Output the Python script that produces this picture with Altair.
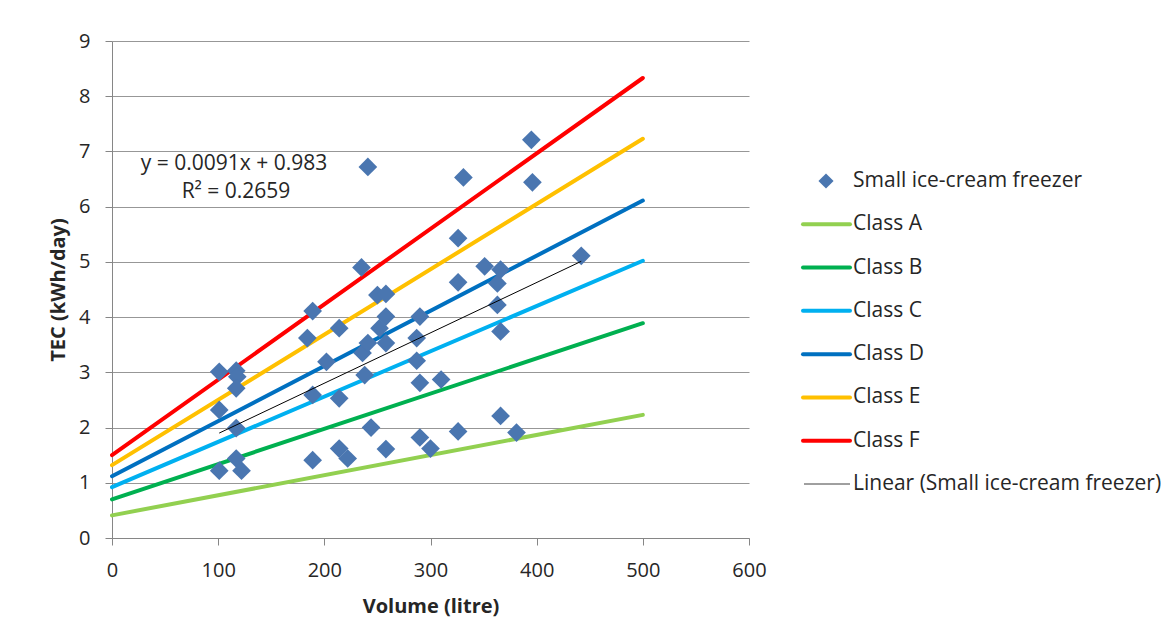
import altair as alt
import pandas as pd

# ---- data ----
volume = [101, 101, 101, 117, 118, 117, 117, 117, 122, 184, 189, 189, 189, 202, 214, 214, 214,
          222, 235, 236, 238, 241, 241, 244, 250, 252, 258, 258, 258, 258, 287, 287, 290,
          290, 290, 300, 310, 326, 326, 326, 331, 351, 363, 363, 366, 366, 366, 381, 395,
          396, 442]
tec = [3.01, 2.32, 1.22, 3.03, 2.92, 2.71, 1.99, 1.44, 1.22, 3.62, 4.11, 2.59, 1.41, 3.19, 3.80,
       2.53, 1.62, 1.44, 4.90, 3.35, 2.95, 6.72, 3.53, 2.00, 4.40, 3.80, 4.42, 4.01, 3.53,
       1.61, 3.62, 3.21, 4.01, 2.81, 1.82, 1.62, 2.87, 5.43, 4.63, 1.93, 6.53, 4.92, 4.61,
       4.22, 4.86, 3.74, 2.21, 1.91, 7.21, 6.44, 5.11]

class_names = ["Class A", "Class B", "Class C", "Class D", "Class E", "Class F"]
class_x = [0, 500]
class_a = [0.41, 2.23]
class_b = [0.70, 3.89]
class_c = [0.92, 5.02]
class_d = [1.12, 6.11]
class_e = [1.32, 7.23]
class_f = [1.50, 8.33]

trend_x = [101, 442]
trend_y = [1.90, 5.01]

equation_lines = ["y = 0.0091x + 0.983", "R² = 0.2659"]

series_name = "Small ice-cream freezer"
trend_name = "Linear (Small ice-cream freezer)"
legend_entries = [series_name] + class_names + [trend_name]

class_colors = ["#92D050", "#00B050", "#00B0F0", "#0070C0", "#FFC000", "#FF0000"]
point_color = "#4A76B0"

FONT = "Open Sans"
TXT = "#262626"
W, H = 637, 497

# ---- tables ----
pts = pd.DataFrame({"volume": volume, "tec": tec})
rows = []
for name, ys in zip(class_names, [class_a, class_b, class_c, class_d, class_e, class_f]):
    for xv, yv in zip(class_x, ys):
        rows.append({"cls": name, "volume": xv, "tec": yv})
lines = pd.DataFrame(rows)
trend = pd.DataFrame({"volume": trend_x, "tec": trend_y})
eq = pd.DataFrame({"t": equation_lines, "i": [0, 1]})

xscale = alt.Scale(domain=[0, 600], nice=False)
yscale = alt.Scale(domain=[0, 9], nice=False)

xaxis = alt.Axis(values=[0, 100, 200, 300, 400, 500, 600], format="d", grid=False, tickSize=7,
                 tickColor="#868686", domainColor="#868686", labelFontSize=20,
                 labelColor=TXT, labelFont=FONT, labelPadding=15, labelFlush=False,
                 title="Volume (litre)", titleFont=FONT, titleFontSize=20,
                 titleFontWeight="bold", titleColor=TXT, titlePadding=16)
yaxis = alt.Axis(values=list(range(10)), format="d", grid=True, gridColor="#979797", tickSize=7,
                 tickColor="#868686", domainColor="#868686", labelFontSize=20,
                 labelColor=TXT, labelFont=FONT, labelPadding=15, labelFlush=False,
                 title="TEC (kWh/day)", titleFont=FONT, titleFontSize=20,
                 titleFontWeight="bold", titleColor=TXT, titlePadding=10)

class_layer = alt.Chart(lines).mark_line(strokeWidth=4, strokeCap="round").encode(
    x=alt.X("volume:Q", scale=xscale, axis=xaxis),
    y=alt.Y("tec:Q", scale=yscale, axis=yaxis),
    color=alt.Color("cls:N", scale=alt.Scale(domain=class_names, range=class_colors), legend=None),
    detail="cls:N",
)
point_layer = alt.Chart(pts).mark_point(shape="diamond", filled=True, size=350, opacity=1,
                                        color=point_color).encode(
    x=alt.X("volume:Q", scale=xscale),
    y=alt.Y("tec:Q", scale=yscale),
)
trend_layer = alt.Chart(trend).mark_line(strokeWidth=1, color="#000000").encode(
    x=alt.X("volume:Q", scale=xscale),
    y=alt.Y("tec:Q", scale=yscale),
)
eq1 = alt.Chart(eq).transform_filter(alt.datum.i == 0).mark_text(
    font=FONT, fontSize=21, color=TXT, align="center", baseline="middle").encode(
    x=alt.value(122), y=alt.value(123), text="t:N")
eq2 = alt.Chart(eq).transform_filter(alt.datum.i == 1).mark_text(
    font=FONT, fontSize=21, color=TXT, align="center", baseline="middle").encode(
    x=alt.value(124), y=alt.value(151), text="t:N")

plot = alt.layer(class_layer, point_layer, trend_layer, eq1, eq2).properties(
    width=W, height=H, view=alt.ViewBackground(stroke="transparent", strokeWidth=0))

# ---- legend panel ----
leg = pd.DataFrame({"entry": legend_entries, "k": list(range(len(legend_entries)))})
leg_y = alt.Y("entry:N", sort=legend_entries,
              scale=alt.Scale(type="point", domain=legend_entries, range=[140, 443], padding=0),
              axis=None)
leg_color = alt.Color("entry:N", scale=alt.Scale(domain=legend_entries,
                                                 range=[point_color] + class_colors + ["#404040"]),
                      legend=None)
leg_lines = alt.Chart(leg).transform_filter(alt.datum.k >= 1).transform_filter(
    alt.datum.k <= 6).mark_rule(strokeWidth=4, strokeCap="round").encode(
    x=alt.value(2), x2=alt.value(49), y=leg_y, color=leg_color)
leg_trend = alt.Chart(leg).transform_filter(alt.datum.k == 7).mark_rule(
    strokeWidth=1).encode(x=alt.value(3), x2=alt.value(49), y=leg_y, color=leg_color)
leg_point = alt.Chart(leg).transform_filter(alt.datum.k == 0).mark_point(
    shape="diamond", filled=True, size=230, opacity=1).encode(x=alt.value(25), y=leg_y, color=leg_color)
leg_text = alt.Chart(leg).mark_text(font=FONT, fontSize=21, color=TXT, align="left",
                                    baseline="middle").encode(
    x=alt.value(52), y=leg_y, text="entry:N")
legend_panel = alt.layer(leg_lines, leg_trend, leg_point, leg_text).properties(
    width=310, height=H, view=alt.ViewBackground(stroke="transparent", strokeWidth=0))

chart = alt.hconcat(plot, legend_panel, spacing=34).resolve_scale(
    color="independent", y="independent", x="independent"
).properties(
    padding={"left": 40, "top": 23, "right": 0, "bottom": 5}
).configure_view(stroke="transparent", strokeWidth=0).configure(background="white")

chart.save("out.html", embed_options={"renderer": "svg", "actions": False})
